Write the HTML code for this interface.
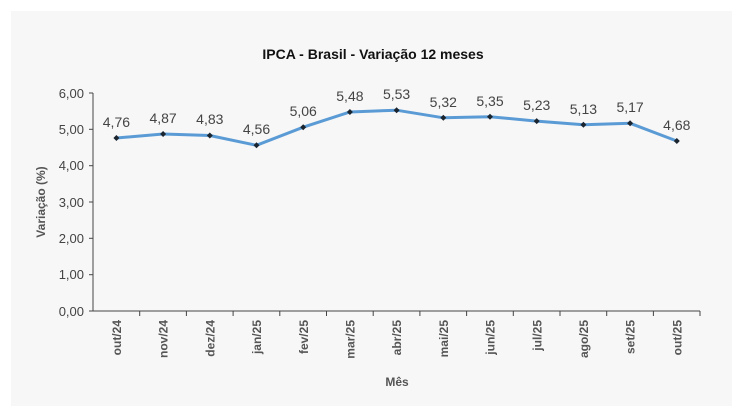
<!DOCTYPE html>
<html><head><meta charset="utf-8"><style>
html,body{margin:0;padding:0;background:#fff;}
body{width:746px;height:406px;overflow:hidden;font-family:"Liberation Sans",Arial,sans-serif;}
</style></head><body>
<svg width="746" height="406" xmlns="http://www.w3.org/2000/svg" font-family="Liberation Sans, Arial, sans-serif">
<rect x="11" y="11" width="721" height="395" fill="#f7f7f7"/>
<text x="373" y="59" text-anchor="middle" font-size="14" font-weight="bold" fill="#111">IPCA - Brasil - Variação 12 meses</text>
<g stroke="#444" stroke-width="1" fill="none">
<line x1="93" y1="93" x2="93" y2="311"/>
<line x1="93" y1="311" x2="700" y2="311"/>
<line x1="89" y1="93" x2="93" y2="93"/><line x1="89" y1="129.3" x2="93" y2="129.3"/><line x1="89" y1="165.7" x2="93" y2="165.7"/><line x1="89" y1="202" x2="93" y2="202"/><line x1="89" y1="238.3" x2="93" y2="238.3"/><line x1="89" y1="274.7" x2="93" y2="274.7"/><line x1="89" y1="311" x2="93" y2="311"/>
<path d="M139.7 311v5M186.4 311v5M233.1 311v5M279.8 311v5M326.5 311v5M373.2 311v5M419.9 311v5M466.6 311v5M513.3 311v5M560 311v5M606.7 311v5M653.4 311v5M700 311v5"/>
</g>
<g font-size="13" fill="#444" text-anchor="end">
<text x="84" y="98">6,00</text><text x="84" y="134">5,00</text><text x="84" y="170">4,00</text><text x="84" y="207">3,00</text><text x="84" y="243">2,00</text><text x="84" y="279">1,00</text><text x="84" y="316">0,00</text>
</g>
<text transform="translate(45,202) rotate(-90)" text-anchor="middle" font-size="12" font-weight="bold" fill="#555">Variação (%)</text>
<text x="397" y="386" text-anchor="middle" font-size="12" font-weight="bold" fill="#555">Mês</text>
<g font-size="12" font-weight="bold" fill="#555" text-anchor="end">
<text transform="translate(121,320) rotate(-90)">out/24</text>
<text transform="translate(167.7,320) rotate(-90)">nov/24</text>
<text transform="translate(214.4,320) rotate(-90)">dez/24</text>
<text transform="translate(261.1,320) rotate(-90)">jan/25</text>
<text transform="translate(307.8,320) rotate(-90)">fev/25</text>
<text transform="translate(354.5,320) rotate(-90)">mar/25</text>
<text transform="translate(401.2,320) rotate(-90)">abr/25</text>
<text transform="translate(447.9,320) rotate(-90)">mai/25</text>
<text transform="translate(494.6,320) rotate(-90)">jun/25</text>
<text transform="translate(541.3,320) rotate(-90)">jul/25</text>
<text transform="translate(588,320) rotate(-90)">ago/25</text>
<text transform="translate(634.7,320) rotate(-90)">set/25</text>
<text transform="translate(681.4,320) rotate(-90)">out/25</text>
</g>
<polyline fill="none" stroke="#5b9bd5" stroke-width="3" points="116.4,138.0 163.1,134.0 209.8,135.5 256.5,145.3 303.2,127.2 349.9,112.0 396.6,110.2 443.3,117.8 490,116.7 536.7,121.1 583.4,124.7 630.1,123.3 676.8,141.0"/>
<g fill="#1a2530">
<path d="M116.4 135l3 3-3 3-3-3z"/><path d="M163.1 131l3 3-3 3-3-3z"/><path d="M209.8 132.5l3 3-3 3-3-3z"/><path d="M256.5 142.3l3 3-3 3-3-3z"/><path d="M303.2 124.2l3 3-3 3-3-3z"/><path d="M349.9 109l3 3-3 3-3-3z"/><path d="M396.6 107.2l3 3-3 3-3-3z"/><path d="M443.3 114.8l3 3-3 3-3-3z"/><path d="M490 113.7l3 3-3 3-3-3z"/><path d="M536.7 118.1l3 3-3 3-3-3z"/><path d="M583.4 121.7l3 3-3 3-3-3z"/><path d="M630.1 120.3l3 3-3 3-3-3z"/><path d="M676.8 138l3 3-3 3-3-3z"/>
</g>
<g font-size="14" fill="#444" text-anchor="middle">
<text x="116.4" y="127">4,76</text><text x="163.1" y="123">4,87</text><text x="209.8" y="124">4,83</text><text x="256.5" y="134">4,56</text><text x="303.2" y="116">5,06</text><text x="349.9" y="101">5,48</text><text x="396.6" y="99">5,53</text><text x="443.3" y="107">5,32</text><text x="490" y="106">5,35</text><text x="536.7" y="110">5,23</text><text x="583.4" y="114">5,13</text><text x="630.1" y="112">5,17</text><text x="676.8" y="130">4,68</text>
</g>
</svg>
</body></html>
